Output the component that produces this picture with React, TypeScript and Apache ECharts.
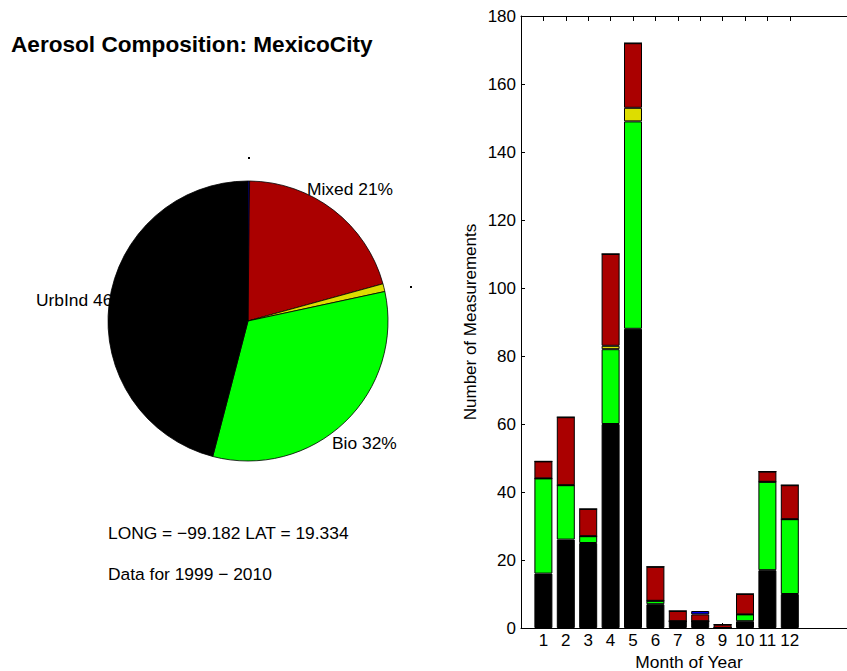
import React, { useEffect, useRef } from "react";
import * as echarts from "echarts";

const months = [1, 2, 3, 4, 5, 6, 7, 8, 9, 10, 11, 12];
const urbInd = [16, 26, 25, 60, 88, 7, 2, 2, 0, 2, 17, 10];
const bio = [28, 16, 2, 22, 61, 1, 0, 0, 0, 2, 26, 22];
const dust = [0, 0, 0, 1, 4, 0, 0, 0, 0, 0, 0, 0];
const mixed = [5, 20, 8, 27, 19, 10, 3, 2, 1, 6, 3, 10];
const other = [0, 0, 0, 0, 0, 0, 0, 1, 0, 0, 0, 0];
// axis slots 0..15 (months sit at 1..12; the rest are empty)
const slots = Array.from({ length: 16 }, (_, i) => String(i));

const COLORS = {
  urbInd: "#000000",
  bio: "#00FF00",
  dust: "#DDDD00",
  mixed: "#AA0000",
  other: "#0000EE",
};

const FONT = "'Liberation Sans', Arial, Helvetica, sans-serif";

const sum = (a: number[]) => a.reduce((s, v) => s + v, 0);

export default function App() {
  const ref = useRef<HTMLDivElement>(null);
  useEffect(() => {
    if (!ref.current) return;
    const chart = echarts.init(ref.current, undefined, { renderer: "svg" });
    const totals = {
      urbInd: sum(urbInd),
      bio: sum(bio),
      dust: sum(dust),
      mixed: sum(mixed),
      other: sum(other),
    };
    const grand = totals.urbInd + totals.bio + totals.dust + totals.mixed + totals.other;
    const pct = (v: number) => Math.round((v / grand) * 100) + "%";

    const toSlots = (arr: number[]) =>
      slots.map((s) => {
        const i = months.indexOf(Number(s));
        return i >= 0 ? arr[i] : "-";
      });

    const barSeries = (name: string, arr: number[], color: string) => ({
      type: "bar",
      name,
      stack: "total",
      xAxisIndex: 0,
      yAxisIndex: 0,
      barWidth: 18,
      silent: true,
      itemStyle: { color, borderColor: "#000", borderWidth: 1 },
      data: toSlots(arr),
      z: 3,
    });

    const isMonth = (idx: number) => idx >= 1 && idx <= 12;

    const textStyle = (size: number, weight = "normal") => ({
      fontSize: size,
      fontFamily: FONT,
      fontWeight: weight,
      fill: "#000",
      align: "left",
      verticalAlign: "middle",
    });

    chart.setOption({
      animation: false,
      textStyle: { fontFamily: FONT },
      grid: { left: 521, top: 16, bottom: 43, right: -10, containLabel: false, outerBoundsMode: "none" },
      xAxis: [
        {
          type: "category",
          data: slots,
          boundaryGap: false,
          position: "bottom",
          name: "Month of Year",
          nameLocation: "middle",
          nameGap: 25,
          nameTextStyle: { fontSize: 17.4, color: "#000", fontFamily: FONT },
          axisLine: { show: true, onZero: false, lineStyle: { color: "#000", width: 1 } },
          axisTick: { show: true, inside: true, length: 5, interval: (i: number) => isMonth(i), lineStyle: { color: "#000" } },
          axisLabel: {
            show: true,
            interval: 0,
            formatter: (v: string, i: number) => (isMonth(i) ? v : ""),
            fontSize: 17,
            color: "#000",
            margin: 4,
            fontFamily: FONT,
          },
          splitLine: { show: false },
        },
        {
          type: "category",
          data: slots,
          boundaryGap: false,
          position: "top",
          axisLine: { show: true, onZero: false, lineStyle: { color: "#000", width: 1 } },
          axisTick: { show: true, inside: true, length: 5, interval: (i: number) => isMonth(i), lineStyle: { color: "#000" } },
          axisLabel: { show: false },
          splitLine: { show: false },
        },
      ],
      yAxis: {
        type: "value",
        min: 0,
        max: 180,
        interval: 20,
        name: "Number of Measurements",
        nameLocation: "middle",
        nameGap: 42,
        nameTextStyle: { fontSize: 17, color: "#000", fontFamily: FONT },
        axisLine: { show: true, lineStyle: { color: "#000", width: 1 } },
        axisTick: { show: true, inside: true, length: 4, lineStyle: { color: "#000" } },
        axisLabel: { fontSize: 17, color: "#000", margin: 5, fontFamily: FONT },
        splitLine: { show: false },
      },
      series: [
        barSeries("UrbInd", urbInd, COLORS.urbInd),
        barSeries("Bio", bio, COLORS.bio),
        barSeries("Dust", dust, COLORS.dust),
        barSeries("Mixed", mixed, COLORS.mixed),
        barSeries("Other", other, COLORS.other),
        {
          type: "pie",
          center: [248, 321],
          radius: 140,
          startAngle: 90,
          clockwise: true,
          silent: true,
          z: 10,
          avoidLabelOverlap: false,
          label: { show: false },
          labelLine: { show: false },
          emphasis: { disabled: true },
          itemStyle: { borderColor: "#000", borderWidth: 0.8 },
          data: [
            { name: "Other", value: totals.other, itemStyle: { color: COLORS.other } },
            { name: "Mixed", value: totals.mixed, itemStyle: { color: COLORS.mixed } },
            { name: "Dust", value: totals.dust, itemStyle: { color: COLORS.dust } },
            { name: "Bio", value: totals.bio, itemStyle: { color: COLORS.bio } },
            { name: "UrbInd", value: totals.urbInd, itemStyle: { color: COLORS.urbInd } },
          ],
        },
      ],
      graphic: {
        elements: [
          { type: "text", x: 11, y: 44, z: 0, style: { text: "Aerosol Composition: MexicoCity", ...textStyle(22.6, "bold") } },
          { type: "text", x: 36, y: 300, z: 0, style: { text: "UrbInd " + pct(totals.urbInd), ...textStyle(17.4) } },
          { type: "text", x: 307, y: 189, z: 0, style: { text: "Mixed " + pct(totals.mixed), ...textStyle(17.4) } },
          { type: "text", x: 332, y: 443, z: 0, style: { text: "Bio " + pct(totals.bio), ...textStyle(17.4) } },
          { type: "text", x: 108, y: 533, z: 0, style: { text: "LONG = \u221299.182 LAT = 19.334", ...textStyle(17.4) } },
          { type: "text", x: 108, y: 574, z: 0, style: { text: "Data for 1999 \u2212 2010", ...textStyle(17.4) } },
          { type: "rect", z: 0, shape: { x: 248, y: 157, width: 2, height: 2 }, style: { fill: "#000" } },
          { type: "rect", z: 0, shape: { x: 410, y: 286, width: 2, height: 2 }, style: { fill: "#000" } },
        ],
      },
    });
    return () => chart.dispose();
  }, []);
  return (
    <div
      ref={ref}
      style={{ position: "absolute", left: 0, top: 0, width: 847, height: 671, background: "#fff" }}
    />
  );
}
